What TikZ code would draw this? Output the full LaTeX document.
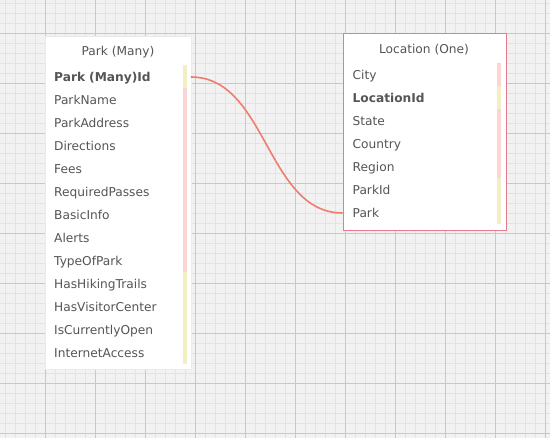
\documentclass[tikz,border=0pt]{standalone}
\usepackage{fontspec}
\setmainfont{DejaVu Sans}
\definecolor{fond}{HTML}{F2F2F2}
\definecolor{grillefine}{HTML}{E3E3E3}
\definecolor{grillegrosse}{HTML}{C8C8C8}
\definecolor{texte}{HTML}{555555}
\definecolor{jaune}{HTML}{F2F0C2}
\definecolor{rose}{HTML}{FBD5D5}
\definecolor{bord}{HTML}{E57B8C}
\definecolor{lien}{HTML}{EE7D6E}

\begin{document}
\begin{tikzpicture}[x=1pt,y=-1pt]
\tikzset{boite/.style={anchor=north west, fill=white, inner sep=0pt},
  titre/.style={font=\fontsize{12.2}{14}\selectfont, text=texte, inner sep=0pt, text height=10.5pt, text depth=1.5pt},
  champP/.style={anchor=west, inner xsep=9pt, inner ysep=0pt, text width=127.5pt, align=left, text height=10.5pt, text depth=1.5pt, font=\fontsize{12.2}{14}\selectfont, text=texte},
  champL/.style={champP, inner xsep=10pt, text width=143pt},
  cle/.style={font=\fontsize{12.2}{14}\selectfont\bfseries}}
\useasboundingbox (0,0) rectangle (550,438);
\fill[fond] (0,0) rectangle (550,438);
\foreach \x in {5.5,15.5,...,545.5} \draw[grillefine, line width=1pt] (\x,0) -- (\x,438);
\foreach \y in {3.5,13.5,...,433.5} \draw[grillefine, line width=1pt] (0,\y) -- (550,\y);
\foreach \x in {45.5,95.5,...,545.5} \draw[grillegrosse, line width=1pt] (\x,0) -- (\x,438);
\foreach \y in {33.5,83.5,...,433.5} \draw[grillegrosse, line width=1pt] (0,\y) -- (550,\y);

\fill[black!15] (45.5,37) rectangle (191.5,370.5);
\node[boite, draw=black!8, minimum width=145.5pt, minimum height=333.5pt] (park) at (45,36) {};
\node[titre] (parkT) at (118,51) {Park (Many)};
\fill[jaune] (183,65) rectangle (187,88);
\fill[rose] (183,88) rectangle (187,272);
\fill[jaune] (183,272) rectangle (187,364);
\node[champP, cle] (P1) at (45,77) {Park (Many)Id};
\node[champP] (P2) at (45,100) {ParkName};
\node[champP] (P3) at (45,123) {ParkAddress};
\node[champP] (P4) at (45,146) {Directions};
\node[champP] (P5) at (45,169) {Fees};
\node[champP] (P6) at (45,192) {RequiredPasses};
\node[champP] (P7) at (45,215) {BasicInfo};
\node[champP] (P8) at (45,238) {Alerts};
\node[champP] (P9) at (45,261) {TypeOfPark};
\node[champP] (P10) at (45,284) {HasHikingTrails};
\node[champP] (P11) at (45,307) {HasVisitorCenter};
\node[champP] (P12) at (45,330) {IsCurrentlyOpen};
\node[champP] (P13) at (45,353) {InternetAccess};

\node[boite, draw=bord, line width=1pt, minimum width=163pt, minimum height=197pt] (loc) at (342.5,33.5) {};
\node[titre] (locT) at (424,49) {Location (One)};
\fill[rose] (497,63) rectangle (501,86);
\fill[jaune] (497,86) rectangle (501,109);
\fill[rose] (497,109) rectangle (501,178);
\fill[jaune] (497,178) rectangle (501,224);
\node[champL] (L1) at (342.5,75) {City};
\node[champL, cle] (L2) at (342.5,98) {LocationId};
\node[champL] (L3) at (342.5,121) {State};
\node[champL] (L4) at (342.5,144) {Country};
\node[champL] (L5) at (342.5,167) {Region};
\node[champL] (L6) at (342.5,190) {ParkId};
\node[champL] (L7) at (342.5,213) {Park};

\draw[lien, line width=1.6pt] (P1.east) .. controls +(76,0) and +(-76,0) .. (L7.west);
\end{tikzpicture}
\end{document}
